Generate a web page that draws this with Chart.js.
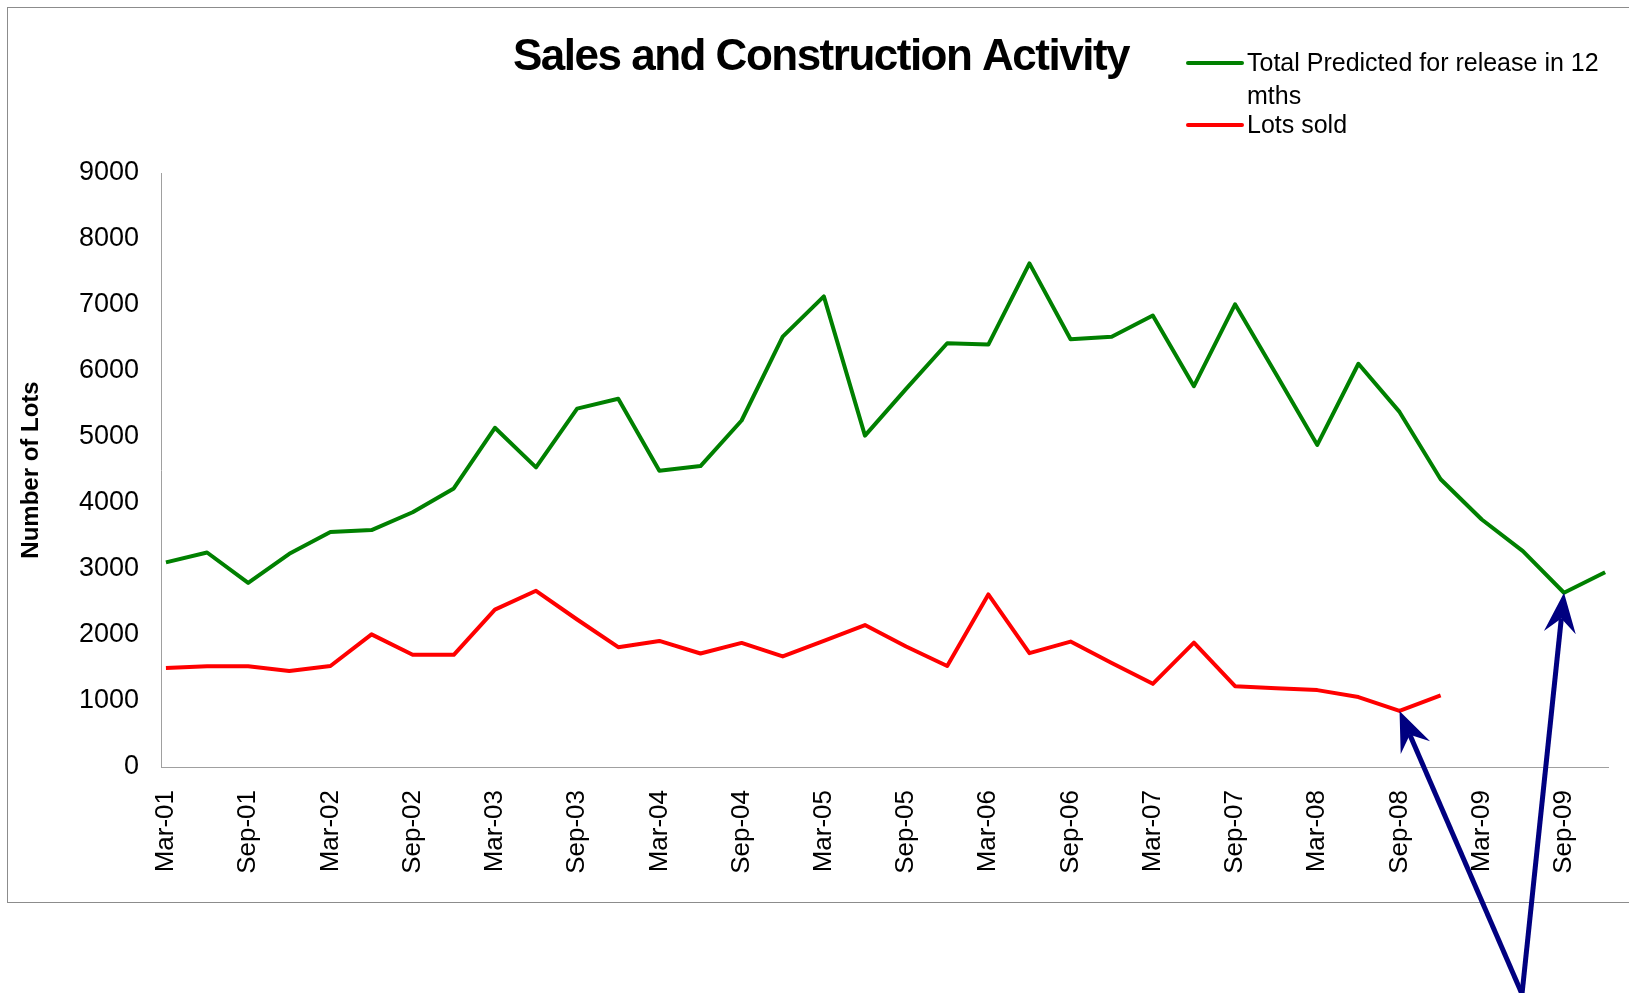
<!DOCTYPE html>
<html>
<head>
<meta charset="utf-8">
<title>Sales and Construction Activity</title>
<script src="https://cdn.jsdelivr.net/npm/chart.js@4.4.1/dist/chart.umd.min.js"></script>
<style>
  html, body { margin: 0; padding: 0; background: #fff; overflow: hidden; }
  #frame { position: absolute; left: 7px; top: 7px; width: 1700px; height: 894px; border: 1.5px solid #8c8c8c; }
  #wrap { position: absolute; left: 0; top: 0; width: 1629px; height: 993px; }
</style>
</head>
<body>
<div id="frame"></div>
<div id="wrap"><canvas id="salesChart" width="1629" height="993"></canvas></div>
<script>
// quarters on the x axis
const categories = [
  "Mar-01", "Jun-01", "Sep-01", "Dec-01", "Mar-02", "Jun-02", "Sep-02", "Dec-02",
  "Mar-03", "Jun-03", "Sep-03", "Dec-03", "Mar-04", "Jun-04", "Sep-04", "Dec-04",
  "Mar-05", "Jun-05", "Sep-05", "Dec-05", "Mar-06", "Jun-06", "Sep-06", "Dec-06",
  "Mar-07", "Jun-07", "Sep-07", "Dec-07", "Mar-08", "Jun-08", "Sep-08", "Dec-08",
  "Mar-09", "Jun-09", "Sep-09", "Dec-09"
];

// Total Predicted for release in 12 mths
const totalPredicted = [
  3100, 3250, 2790, 3230, 3560, 3590, 3860, 4220,
  5140, 4540, 5430, 5580, 4490, 4560, 5250, 6520,
  7130, 5020, 5730, 6420, 6400, 7630, 6480, 6520,
  6840, 5770, 7010, 5950, 4880, 6110, 5380, 4360,
  3750, 3270, 2640, 2950
];

// Lots sold (ends Dec-08)
const lotsSold = [
  1500, 1525, 1525, 1455, 1530, 2010, 1700, 1700,
  2385, 2670, 2235, 1815, 1910, 1720, 1880, 1675,
  1910, 2150, 1825, 1530, 2615, 1725, 1900, 1575,
  1260, 1885, 1225, 1195, 1165, 1060, 850, 1085
];

const seriesLabels = ["Total Predicted for release in 12 mths", "Lots sold"];
const chartTitle = "Sales and Construction Activity";
const yTitle = "Number of Lots";
const yTicks = [0, 1000, 2000, 3000, 4000, 5000, 6000, 7000, 8000, 9000];

// arrows point from a spot under the chart to these points
const arrowTargets = [
  { series: 1, index: 30 },
  { series: 0, index: 34 }
];

Chart.defaults.font.family = '"Liberation Sans", Arial, sans-serif';
Chart.defaults.color = "#000";

function drawArrow(ctx, fx, fy, tx, ty) {
  const ang = Math.atan2(ty - fy, tx - fx);
  const c = Math.cos(ang), s = Math.sin(ang);
  const headLen = 40, headHalf = 16, notch = 26;
  const nx = tx - notch * c, ny = ty - notch * s;
  ctx.beginPath();
  ctx.moveTo(fx, fy);
  ctx.lineTo(nx, ny);
  ctx.stroke();
  ctx.beginPath();
  ctx.moveTo(tx, ty);
  ctx.lineTo(tx - headLen * c + headHalf * s, ty - headLen * s - headHalf * c);
  ctx.lineTo(nx, ny);
  ctx.lineTo(tx - headLen * c - headHalf * s, ty - headLen * s + headHalf * c);
  ctx.closePath();
  ctx.fill();
}

const extras = {
  id: "salesExtras",
  afterDraw(chart) {
    const ctx = chart.ctx;
    ctx.save();

    // title, tight like the original
    ctx.fillStyle = "#000";
    ctx.font = 'bold 44px "Liberation Sans", Arial, sans-serif';
    ctx.letterSpacing = "-1.5px";
    ctx.textAlign = "center";
    ctx.textBaseline = "middle";
    ctx.fillText(chartTitle, 821, 58);
    ctx.letterSpacing = "0px";

    // legend, text wraps like the original
    ctx.font = '25px "Liberation Sans", Arial, sans-serif';
    ctx.textAlign = "left";
    let y = 63;
    chart.data.datasets.forEach((ds) => {
      const words = ds.label.split(" ");
      const lines = [];
      let cur = "";
      words.forEach((w) => {
        const test = cur ? cur + " " + w : w;
        if (ctx.measureText(test).width > 365 && cur) {
          lines.push(cur);
          cur = w;
        } else {
          cur = test;
        }
      });
      lines.push(cur);

      ctx.strokeStyle = ds.borderColor;
      ctx.lineWidth = 4;
      ctx.lineCap = "round";
      ctx.beginPath();
      ctx.moveTo(1188, y);
      ctx.lineTo(1242, y);
      ctx.stroke();

      ctx.fillStyle = "#000";
      lines.forEach((ln, k) => {
        if (k > 0) y += 33;
        ctx.fillText(ln, 1247, y + 1);
      });
      y += 29;
    });

    // navy arrows
    const xs = chart.scales.x, ys = chart.scales.y;
    ctx.strokeStyle = "#000080";
    ctx.fillStyle = "#000080";
    ctx.lineWidth = 5;
    ctx.lineCap = "butt";
    arrowTargets.forEach((t) => {
      const vals = t.series === 0 ? totalPredicted : lotsSold;
      const tx = xs.getPixelForValue(t.index);
      const ty = ys.getPixelForValue(vals[t.index]);
      drawArrow(ctx, 1522, 994, tx, ty);
    });

    ctx.restore();
  }
};

new Chart(document.getElementById("salesChart"), {
  type: "line",
  data: {
    datasets: [
      {
        label: seriesLabels[0],
        data: totalPredicted.map((v, i) => ({ x: i, y: v })),
        borderColor: "#008000",
        borderWidth: 4,
        pointRadius: 0,
        tension: 0,
        borderJoinStyle: "round",
        fill: false
      },
      {
        label: seriesLabels[1],
        data: lotsSold.map((v, i) => ({ x: i, y: v })),
        borderColor: "#ff0000",
        borderWidth: 4,
        pointRadius: 0,
        tension: 0,
        borderJoinStyle: "round",
        fill: false
      }
    ]
  },
  options: {
    responsive: false,
    animation: false,
    layout: { padding: { top: 173, right: 21, bottom: 0, left: 0 } },
    plugins: {
      legend: { display: false },
      title: { display: false },
      tooltip: { enabled: false }
    },
    scales: {
      x: {
        type: "linear",
        min: -0.12,
        max: 35.07,
        grid: { display: false, drawTicks: false, tickLength: 0 },
        border: { display: true, color: "#a0a0a0", width: 1 },
        afterBuildTicks(scale) {
          scale.ticks = categories.map((c, i) => ({ value: i })).filter((t) => t.value % 2 === 0);
        },
        afterFit(scale) { scale.height = 226; },
        ticks: {
          autoSkip: false,
          minRotation: 90,
          maxRotation: 90,
          padding: 23,
          font: { size: 26 },
          color: "#000",
          callback: (v) => categories[v]
        }
      },
      y: {
        min: 0,
        max: 9000,
        grid: { display: false, drawTicks: false, tickLength: 0 },
        border: { display: true, color: "#a0a0a0", width: 1 },
        afterBuildTicks(scale) {
          scale.ticks = yTicks.map((v) => ({ value: v }));
        },
        afterFit(scale) { scale.width = 161; },
        ticks: { padding: 22, font: { size: 27 }, color: "#000", callback: (v) => String(v) },
        title: {
          display: true,
          text: yTitle,
          font: { size: 24, weight: "bold" },
          color: "#000",
          padding: { top: 17, bottom: 0 }
        }
      }
    }
  },
  plugins: [extras]
});
</script>
</body>
</html>
